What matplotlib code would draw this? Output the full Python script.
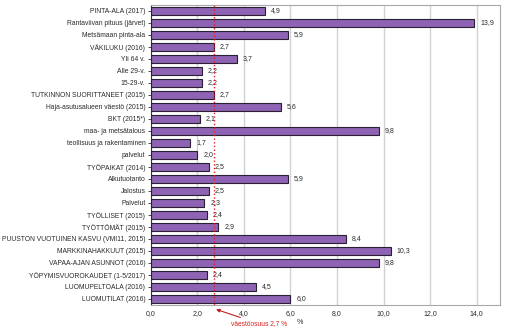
import matplotlib
matplotlib.use("Agg")
from matplotlib import pyplot as plt
import numpy as np

plt.rcParams['font.family'] = ['Liberation Sans', 'DejaVu Sans']

# categories top -> bottom
labels = [
    "PINTA-ALA (2017)",
    "Rantaviivan pituus (järvet)",
    "Metsämaan pinta-ala",
    "VÄKILUKU (2016)",
    "Yli 64 v.",
    "Alle 29-v.",
    "15-29-v.",
    "TUTKINNON SUORITTANEET (2015)",
    "Haja-asutusalueen väestö (2015)",
    "BKT (2015*)",
    "maa- ja metsätalous",
    "teollisuus ja rakentaminen",
    "palvelut",
    "TYÖPAIKAT (2014)",
    "Alkutuotanto",
    "Jalostus",
    "Palvelut",
    "TYÖLLISET (2015)",
    "TYÖTTÖMÄT (2015)",
    "PUUSTON VUOTUINEN KASVU (VMI11, 2015)",
    "MARKKINAHAKKUUT (2015)",
    "VAPAA-AJAN ASUNNOT (2016)",
    "YÖPYMISVUOROKAUDET (1-5/2017)",
    "LUOMUPELTOALA (2016)",
    "LUOMUTILAT (2016)",
]
values = [4.9, 13.9, 5.9, 2.7, 3.7, 2.2, 2.2, 2.7, 5.6, 2.1, 9.8, 1.7, 2.0, 2.5,
          5.9, 2.5, 2.3, 2.4, 2.9, 8.4, 10.3, 9.8, 2.4, 4.5, 6.0]
share = 2.7
xticks = [0, 2, 4, 6, 8, 10, 12, 14]

fig = plt.figure(figsize=(5.08, 3.31), dpi=100)
ax = fig.add_axes([0.297, 0.079, 0.687, 0.907])

y = np.arange(len(labels))
ax.barh(y, values, height=0.65, color="#8e63b3", edgecolor="#2b1f33", linewidth=0.8, zorder=3)
for yi, v in zip(y, values):
    ax.text(v + 0.25, yi, f"{v:.1f}".replace(".", ","), va="center", ha="left",
            fontsize=5, color="#2a2a2a", zorder=4)

ax.axvline(share, color="#e0201b", linestyle=":", linewidth=1.0, zorder=5)

ax.set_xlim(0, 15)
ax.set_ylim(len(labels) - 0.5, -0.5)
ax.set_yticks(y)
ax.set_yticklabels(labels, fontsize=4.85, color="#2a2a2a")
ax.set_xticks(xticks)
ax.set_xticklabels([f"{t:.1f}".replace(".", ",") for t in xticks], fontsize=5, color="#2a2a2a")
ax.tick_params(axis="x", length=0, pad=4)
ax.tick_params(axis="y", length=2, width=0.6, color="#333333", pad=2)
ax.grid(axis="x", color="#d2d2d2", linewidth=1.0, zorder=0)

for s in ["top", "right", "bottom"]:
    ax.spines[s].set_color("#a8a8a8")
    ax.spines[s].set_linewidth(0.8)
ax.spines["left"].set_color("#333333")
ax.spines["left"].set_linewidth(0.8)

tr = ax.get_xaxis_transform()
ax.annotate("väestöosuus 2,7 %", xy=(2.8, -0.015), xycoords=tr,
            xytext=(3.45, -0.063), textcoords=tr, fontsize=4.8, color="#e0201b",
            va="center", ha="left",
            arrowprops=dict(arrowstyle="-|>", color="#c0201b", lw=0.8,
                            mutation_scale=5, shrinkA=0, shrinkB=0))
ax.text(6.4, -0.06, "%", transform=tr, fontsize=5.2, color="#2a2a2a", va="center", ha="center")

fig.savefig("out.png", dpi=100)
